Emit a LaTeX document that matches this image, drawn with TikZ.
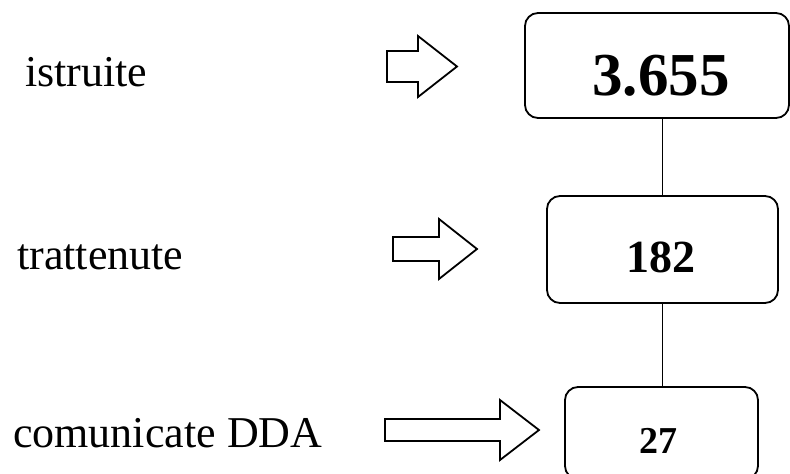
\documentclass[tikz,border=0pt]{standalone}
\usepackage{fontspec}
\setmainfont{Liberation Serif}
\begin{document}
\begin{tikzpicture}[x=1pt,y=-1pt,
  valbox/.style={draw, line width=1.8pt, rounded corners=13pt, inner sep=0pt},
  caption/.style={anchor=base west, inner sep=0pt, font=\fontsize{44}{50}\selectfont},
  value/.style={anchor=base, inner sep=0pt, font=\bfseries\fontsize{#1}{#1}\selectfont},
  link/.style={line width=1.8pt},
  blockarrow/.style={draw, line width=1.8pt, line join=miter}]
\useasboundingbox (0,0) rectangle (790,474);

% labels on the left
\node[caption] (l1) at (25,86)  {istruite};
\node[caption] (l2) at (17,269) {trattenute};
\node[caption] (l3) at (13,447) {comunicate DDA};

% boxes with the figures
\node[valbox, minimum width=264pt, minimum height=105pt] (b1) at (657,65.5) {};
\node[valbox, minimum width=231pt, minimum height=107pt] (b2) at (662.5,249.5) {};
\node[valbox, minimum width=193pt, minimum height=92pt]  (b3) at (661.5,433) {};
\node[value=61] (v1) at (661,95)  {3.655};
\node[value=46] (v2) at (661,272) {182};
\node[value=38] (v3) at (658,453) {27};

% vertical links between boxes
\draw[link] (b2.north |- b1.south) -- (b2.north);
\draw[link] (b2.south) -- (b2.south |- b3.north);

% hollow block arrows: #1 tail x, #2 head base x, #3 tip x, #4 centre y, #5 half body, #6 half head
\newcommand\hollowarrow[6]{%
  \draw[blockarrow] (#1,#4-#5) -- (#2,#4-#5) -- (#2,#4-#6) -- (#3,#4)
    -- (#2,#4+#6) -- (#2,#4+#5) -- (#1,#4+#5) -- cycle;}
\hollowarrow{387}{418}{457}{66.5}{15.5}{30.5}
\hollowarrow{393}{439}{477}{249}{12}{30}
\hollowarrow{385}{500}{539}{430}{11}{30}
\end{tikzpicture}
\end{document}
